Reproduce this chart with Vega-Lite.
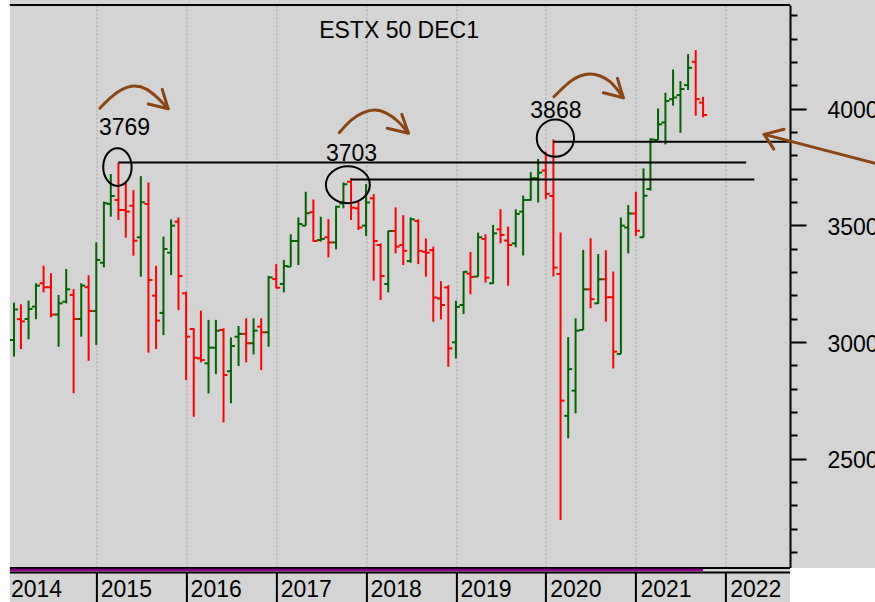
{
  "$schema": "https://vega.github.io/schema/vega-lite/v6.json",
  "width": 783.6,
  "height": 563,
  "autosize": {"type": "none"},
  "padding": {"left": 6.4, "top": 5, "right": 85, "bottom": 34},
  "background": "#d4d4d4",
  "config": {
    "view": {"stroke": null, "fill": "#d4d4d4"},
    "font": "Liberation Sans"
  },
  "datasets": {
    "bars": [
      {"d":"2014-02-01","o":3009,"h":3169,"l":2938,"c":3140},
      {"d":"2014-03-01","o":3098,"h":3162,"l":2970,"c":3089},
      {"d":"2014-04-01","o":3099,"h":3178,"l":3012,"c":3142},
      {"d":"2014-05-01","o":3152,"h":3252,"l":3098,"c":3242},
      {"d":"2014-06-01","o":3252,"h":3327,"l":3213,"c":3235},
      {"d":"2014-07-01","o":3235,"h":3295,"l":3106,"c":3118},
      {"d":"2014-08-01","o":3118,"h":3202,"l":2980,"c":3166},
      {"d":"2014-09-01","o":3173,"h":3313,"l":3166,"c":3226},
      {"d":"2014-10-01","o":3202,"h":3227,"l":2781,"c":3099},
      {"d":"2014-11-01","o":3099,"h":3252,"l":3023,"c":3242},
      {"d":"2014-12-01","o":3235,"h":3286,"l":2920,"c":3133},
      {"d":"2015-01-01","o":3133,"h":3427,"l":2988,"c":3352},
      {"d":"2015-02-01","o":3340,"h":3602,"l":3320,"c":3595},
      {"d":"2015-03-01","o":3592,"h":3720,"l":3537,"c":3626},
      {"d":"2015-04-01","o":3609,"h":3769,"l":3523,"c":3566},
      {"d":"2015-05-01","o":3566,"h":3684,"l":3447,"c":3559},
      {"d":"2015-06-01","o":3584,"h":3651,"l":3370,"c":3434},
      {"d":"2015-07-01","o":3449,"h":3711,"l":3280,"c":3599},
      {"d":"2015-08-01","o":3592,"h":3684,"l":2955,"c":3266},
      {"d":"2015-09-01","o":3199,"h":3327,"l":2970,"c":3092},
      {"d":"2015-10-01","o":3125,"h":3452,"l":3030,"c":3399},
      {"d":"2015-11-01","o":3383,"h":3526,"l":3287,"c":3499},
      {"d":"2015-12-01","o":3516,"h":3534,"l":3137,"c":3283},
      {"d":"2016-01-01","o":3209,"h":3216,"l":2837,"c":3023},
      {"d":"2016-02-01","o":3056,"h":3059,"l":2680,"c":2933},
      {"d":"2016-03-01","o":2930,"h":3135,"l":2913,"c":2923},
      {"d":"2016-04-01","o":2909,"h":3095,"l":2780,"c":2976},
      {"d":"2016-05-01","o":2976,"h":3095,"l":2863,"c":3049},
      {"d":"2016-06-01","o":3052,"h":3059,"l":2656,"c":2859},
      {"d":"2016-07-01","o":2875,"h":3020,"l":2738,"c":2983},
      {"d":"2016-08-01","o":3023,"h":3069,"l":2897,"c":3035},
      {"d":"2016-09-01","o":3035,"h":3102,"l":2913,"c":2995},
      {"d":"2016-10-01","o":2995,"h":3102,"l":2947,"c":3049},
      {"d":"2016-11-01","o":3066,"h":3102,"l":2880,"c":3042},
      {"d":"2016-12-01","o":3042,"h":3284,"l":2980,"c":3277},
      {"d":"2017-01-01","o":3270,"h":3334,"l":3230,"c":3233},
      {"d":"2017-02-01","o":3249,"h":3352,"l":3213,"c":3326},
      {"d":"2017-03-01","o":3323,"h":3462,"l":3323,"c":3433},
      {"d":"2017-04-01","o":3433,"h":3534,"l":3330,"c":3506},
      {"d":"2017-05-01","o":3499,"h":3644,"l":3499,"c":3552},
      {"d":"2017-06-01","o":3556,"h":3611,"l":3430,"c":3433},
      {"d":"2017-07-01","o":3437,"h":3537,"l":3430,"c":3442},
      {"d":"2017-08-01","o":3449,"h":3527,"l":3363,"c":3427},
      {"d":"2017-09-01","o":3427,"h":3584,"l":3397,"c":3580},
      {"d":"2017-10-01","o":3594,"h":3684,"l":3573,"c":3676},
      {"d":"2017-11-01","o":3687,"h":3703,"l":3523,"c":3576},
      {"d":"2017-12-01","o":3573,"h":3601,"l":3480,"c":3491},
      {"d":"2018-01-01","o":3499,"h":3677,"l":3454,"c":3598},
      {"d":"2018-02-01","o":3616,"h":3634,"l":3263,"c":3433},
      {"d":"2018-03-01","o":3416,"h":3423,"l":3180,"c":3283},
      {"d":"2018-04-01","o":3249,"h":3477,"l":3213,"c":3476},
      {"d":"2018-05-01","o":3476,"h":3577,"l":3380,"c":3409},
      {"d":"2018-06-01","o":3416,"h":3544,"l":3330,"c":3391},
      {"d":"2018-07-01","o":3347,"h":3534,"l":3340,"c":3526},
      {"d":"2018-08-01","o":3519,"h":3526,"l":3334,"c":3391},
      {"d":"2018-09-01","o":3387,"h":3444,"l":3280,"c":3383},
      {"d":"2018-10-01","o":3394,"h":3409,"l":3087,"c":3191},
      {"d":"2018-11-01","o":3187,"h":3261,"l":3097,"c":3159},
      {"d":"2018-12-01","o":3234,"h":3244,"l":2894,"c":2973},
      {"d":"2019-01-01","o":2999,"h":3177,"l":2930,"c":3151},
      {"d":"2019-02-01","o":3159,"h":3304,"l":3120,"c":3301},
      {"d":"2019-03-01","o":3293,"h":3386,"l":3205,"c":3279},
      {"d":"2019-04-01","o":3281,"h":3469,"l":3281,"c":3449},
      {"d":"2019-05-01","o":3442,"h":3462,"l":3255,"c":3276},
      {"d":"2019-06-01","o":3252,"h":3502,"l":3249,"c":3466},
      {"d":"2019-07-01","o":3483,"h":3569,"l":3423,"c":3459},
      {"d":"2019-08-01","o":3435,"h":3495,"l":3241,"c":3416},
      {"d":"2019-09-01","o":3423,"h":3569,"l":3406,"c":3549},
      {"d":"2019-10-01","o":3559,"h":3628,"l":3371,"c":3609},
      {"d":"2019-11-01","o":3609,"h":3728,"l":3606,"c":3702},
      {"d":"2019-12-01","o":3702,"h":3785,"l":3598,"c":3726},
      {"d":"2020-01-01","o":3735,"h":3816,"l":3612,"c":3635},
      {"d":"2020-02-01","o":3626,"h":3868,"l":3281,"c":3319},
      {"d":"2020-03-01","o":3292,"h":3469,"l":2238,"c":2749},
      {"d":"2020-04-01","o":2684,"h":3021,"l":2588,"c":2884},
      {"d":"2020-05-01","o":2792,"h":3102,"l":2695,"c":3049},
      {"d":"2020-06-01","o":3052,"h":3395,"l":3052,"c":3226},
      {"d":"2020-07-01","o":3226,"h":3445,"l":3145,"c":3184},
      {"d":"2020-08-01","o":3166,"h":3377,"l":3163,"c":3269},
      {"d":"2020-09-01","o":3269,"h":3394,"l":3087,"c":3192},
      {"d":"2020-10-01","o":3192,"h":3302,"l":2887,"c":2959},
      {"d":"2020-11-01","o":2949,"h":3534,"l":2949,"c":3499},
      {"d":"2020-12-01","o":3491,"h":3587,"l":3380,"c":3551},
      {"d":"2021-01-01","o":3551,"h":3644,"l":3454,"c":3477},
      {"d":"2021-02-01","o":3449,"h":3744,"l":3449,"c":3627},
      {"d":"2021-03-01","o":3656,"h":3873,"l":3649,"c":3868},
      {"d":"2021-04-01","o":3866,"h":4001,"l":3866,"c":3933},
      {"d":"2021-05-01","o":3941,"h":4068,"l":3847,"c":4033},
      {"d":"2021-06-01","o":4041,"h":4168,"l":4013,"c":4048},
      {"d":"2021-07-01","o":4058,"h":4118,"l":3897,"c":4084},
      {"d":"2021-08-01","o":4101,"h":4234,"l":4080,"c":4175},
      {"d":"2021-09-01","o":4201,"h":4251,"l":3970,"c":4041},
      {"d":"2021-10-01","o":4026,"h":4051,"l":3963,"c":3973}
    ],
    "hlines": [
      {"d1":"2015-04-01","d2":"2022-03-25","p":3769},
      {"d1":"2017-11-01","d2":"2022-04-27","p":3697},
      {"d1":"2020-02-01","d2":"2022-09-19","p":3858}
    ],
    "frame": [{"p":4444.3},{"p":2032}],
    "band": [{"d1":"2014-01-01","d2":"2021-10-01","p":2032}],
    "corner": [
      {"d1":"2022-09-19","d2":"2024-06-01","p1":2032,"p2":1500},
      {"d1":"2013-06-01","d2":"2014-01-15","p1":1500,"p2":4600}
    ],
    "labels": [
      {"d":"2015-04-26","p":3887,"t":"3769"},
      {"d":"2017-11-03","p":3776,"t":"3703"},
      {"d":"2020-02-11","p":3959,"t":"3868"},
      {"d":"2018-05-15","p":4303,"t":"ESTX 50 DEC1"}
    ],
    "curves": [
      {"g":"a1","i":0,"d":"2015-01-16","p":4002},
      {"g":"a1","i":1,"d":"2015-02-26","p":4045},
      {"g":"a1","i":2,"d":"2015-04-07","p":4077},
      {"g":"a1","i":3,"d":"2015-06-07","p":4097},
      {"g":"a1","i":4,"d":"2015-07-25","p":4083},
      {"g":"a1","i":5,"d":"2015-09-03","p":4051},
      {"g":"a1","i":6,"d":"2015-10-20","p":4000},
      {"g":"a2","i":0,"d":"2017-09-14","p":3897},
      {"g":"a2","i":1,"d":"2017-11-03","p":3952},
      {"g":"a2","i":2,"d":"2017-12-21","p":3983},
      {"g":"a2","i":3,"d":"2018-02-06","p":3994},
      {"g":"a2","i":4,"d":"2018-03-26","p":3980},
      {"g":"a2","i":5,"d":"2018-05-12","p":3944},
      {"g":"a2","i":6,"d":"2018-06-22","p":3895},
      {"g":"a3","i":0,"d":"2020-02-03","p":4051},
      {"g":"a3","i":1,"d":"2020-02-28","p":4077},
      {"g":"a3","i":2,"d":"2020-04-09","p":4116},
      {"g":"a3","i":3,"d":"2020-05-19","p":4140},
      {"g":"a3","i":4,"d":"2020-06-29","p":4149},
      {"g":"a3","i":5,"d":"2020-08-09","p":4140},
      {"g":"a3","i":6,"d":"2020-09-18","p":4116},
      {"g":"a3","i":7,"d":"2020-11-11","p":4047},
      {"g":"a4","i":0,"d":"2022-06-06","p":3890},
      {"g":"a4","i":1,"d":"2023-08-31","p":3766}
    ],
    "heads": [
      {"g":"h1","i":0,"d":"2015-09-26","p":4083},
      {"g":"h1","i":1,"d":"2015-10-20","p":4000},
      {"g":"h1","i":2,"d":"2015-07-31","p":4020},
      {"g":"h2","i":0,"d":"2018-05-26","p":3976},
      {"g":"h2","i":1,"d":"2018-06-22","p":3895},
      {"g":"h2","i":2,"d":"2018-03-28","p":3916},
      {"g":"h3","i":0,"d":"2020-10-18","p":4130},
      {"g":"h3","i":1,"d":"2020-11-11","p":4047},
      {"g":"h3","i":2,"d":"2020-08-22","p":4068},
      {"g":"h4","i":0,"d":"2022-08-26","p":3912},
      {"g":"h4","i":1,"d":"2022-06-06","p":3890},
      {"g":"h4","i":2,"d":"2022-07-15","p":3827}
    ],
    "e1": [{"d":"2015-03-28","p":3750}],
    "e2": [{"d":"2017-10-19","p":3674}],
    "e3": [{"d":"2020-02-09","p":3874}]
  },
  "layer": [
    {
      "data": {"name": "bars"},
      "mark": {"type": "rule", "strokeWidth": 2},
      "encoding": {
        "x": {
          "field": "d", "type": "temporal", "title": null,
          "scale": {"type": "utc", "domain": [{"year": 2014, "month": 1, "date": 1, "utc": true}, {"year": 2022, "month": 9, "date": 19, "utc": true}]},
          "axis": {
            "title": null,
            "values": [
              {"year": 2014, "month": 1, "date": 1, "utc": true},
              {"year": 2015, "month": 1, "date": 1, "utc": true},
              {"year": 2016, "month": 1, "date": 1, "utc": true},
              {"year": 2017, "month": 1, "date": 1, "utc": true},
              {"year": 2018, "month": 1, "date": 1, "utc": true},
              {"year": 2019, "month": 1, "date": 1, "utc": true},
              {"year": 2020, "month": 1, "date": 1, "utc": true},
              {"year": 2021, "month": 1, "date": 1, "utc": true},
              {"year": 2022, "month": 1, "date": 1, "utc": true}
            ],
            "tickCount": 40,
            "format": "%Y",
            "offset": 4,
            "domainColor": "black", "domainWidth": 2,
            "tickColor": "black", "tickWidth": 2, "tickSize": 30,
            "labelAlign": "left", "labelOffset": 4, "labelBaseline": "alphabetic", "labelPadding": -6,
            "labelFont": "Liberation Sans", "labelFontSize": 23, "labelColor": "black",
            "labelFlush": false, "labelOverlap": false,
            "grid": true, "gridColor": "#b4b4b4", "gridDash": [2, 2], "gridWidth": 1.5
          }
        },
        "y": {
          "field": "l", "type": "quantitative", "title": null,
          "scale": {"domain": [2032, 4444.3], "nice": false, "zero": false},
          "axis": {
            "title": null,
            "orient": "right",
            "values": [2100,2200,2300,2400,2500,2600,2700,2800,2900,3000,3100,3200,3300,3400,3500,3600,3700,3800,3900,4000,4100,4200,4300,4400],
            "tickCount": 60,
            "format": "d",
            "labelExpr": "datum.value % 500 === 0 ? datum.label : ''",
            "tickSize": {"condition": {"test": "datum.value % 500 === 0", "value": 16}, "value": 7},
            "tickColor": "black", "tickWidth": 2,
            "domainColor": "black", "domainWidth": 2,
            "labelFont": "Liberation Sans", "labelFontSize": 23, "labelColor": "black",
            "labelPadding": 21, "labelAlign": "left", "labelBaseline": "middle", "labelOffset": 2,
            "labelFlush": false, "labelOverlap": false,
            "grid": false
          }
        },
        "y2": {"field": "h"},
        "color": {"condition": {"test": "datum.c >= datum.o", "value": "#006400"}, "value": "#ff0000"}
      }
    },
    {
      "data": {"name": "bars"},
      "mark": {"type": "rule", "strokeWidth": 2, "xOffset": -4, "x2Offset": 0},
      "encoding": {
        "x": {"field": "d", "type": "temporal", "title": null},
        "x2": {"field": "d"},
        "y": {"field": "o", "type": "quantitative", "title": null},
        "color": {"condition": {"test": "datum.c >= datum.o", "value": "#006400"}, "value": "#ff0000"}
      }
    },
    {
      "data": {"name": "bars"},
      "mark": {"type": "rule", "strokeWidth": 2, "xOffset": 0, "x2Offset": 4},
      "encoding": {
        "x": {"field": "d", "type": "temporal", "title": null},
        "x2": {"field": "d"},
        "y": {"field": "c", "type": "quantitative", "title": null},
        "color": {"condition": {"test": "datum.c >= datum.o", "value": "#006400"}, "value": "#ff0000"}
      }
    },
    {
      "data": {"name": "hlines"},
      "mark": {"type": "rule", "strokeWidth": 2, "color": "black"},
      "encoding": {
        "x": {"field": "d1", "type": "temporal", "title": null},
        "x2": {"field": "d2"},
        "y": {"field": "p", "type": "quantitative", "title": null}
      }
    },
    {
      "data": {"name": "frame"},
      "mark": {"type": "rule", "strokeWidth": 2, "color": "black"},
      "encoding": {
        "y": {"field": "p", "type": "quantitative", "title": null}
      }
    },
    {
      "data": {"name": "band"},
      "mark": {"type": "rule", "strokeWidth": 2.5, "color": "#8b008b", "yOffset": 2},
      "encoding": {
        "x": {"field": "d1", "type": "temporal", "title": null},
        "x2": {"field": "d2"},
        "y": {"field": "p", "type": "quantitative", "title": null}
      }
    },
    {
      "data": {"name": "corner"},
      "mark": {"type": "rect", "color": "white", "opacity": 1},
      "encoding": {
        "x": {"field": "d1", "type": "temporal", "title": null},
        "x2": {"field": "d2"},
        "y": {"field": "p1", "type": "quantitative", "title": null},
        "y2": {"field": "p2"}
      }
    },
    {
      "data": {"name": "e1"},
      "mark": {"type": "point", "shape": "M -0.753 0 A 0.753 1 0 1 1 0.753 0 A 0.753 1 0 1 1 -0.753 0 Z", "size": 1421, "filled": false, "color": "black", "strokeWidth": 2, "opacity": 1},
      "encoding": {
        "x": {"field": "d", "type": "temporal", "title": null},
        "y": {"field": "p", "type": "quantitative", "title": null}
      }
    },
    {
      "data": {"name": "e2"},
      "mark": {"type": "point", "shape": "M -1 0 A 1 0.84 0 1 1 1 0 A 1 0.84 0 1 1 -1 0 Z", "size": 1936, "filled": false, "color": "black", "strokeWidth": 2, "opacity": 1},
      "encoding": {
        "x": {"field": "d", "type": "temporal", "title": null},
        "y": {"field": "p", "type": "quantitative", "title": null}
      }
    },
    {
      "data": {"name": "e3"},
      "mark": {"type": "point", "shape": "circle", "size": 1391, "filled": false, "color": "black", "strokeWidth": 2, "opacity": 1},
      "encoding": {
        "x": {"field": "d", "type": "temporal", "title": null},
        "y": {"field": "p", "type": "quantitative", "title": null}
      }
    },
    {
      "data": {"name": "labels"},
      "mark": {"type": "text", "font": "Liberation Sans", "fontSize": 23, "color": "black", "align": "center", "baseline": "alphabetic"},
      "encoding": {
        "x": {"field": "d", "type": "temporal", "title": null},
        "y": {"field": "p", "type": "quantitative", "title": null},
        "text": {"field": "t"}
      }
    },
    {
      "data": {"name": "curves"},
      "mark": {"type": "line", "interpolate": "monotone", "strokeWidth": 3, "color": "#8b4513", "strokeCap": "round"},
      "encoding": {
        "x": {"field": "d", "type": "temporal", "title": null},
        "y": {"field": "p", "type": "quantitative", "title": null},
        "detail": {"field": "g"},
        "order": {"field": "i"}
      }
    },
    {
      "data": {"name": "heads"},
      "mark": {"type": "line", "strokeWidth": 3, "color": "#8b4513", "strokeCap": "round", "strokeJoin": "round"},
      "encoding": {
        "x": {"field": "d", "type": "temporal", "title": null},
        "y": {"field": "p", "type": "quantitative", "title": null},
        "detail": {"field": "g"},
        "order": {"field": "i"}
      }
    }
  ]
}
